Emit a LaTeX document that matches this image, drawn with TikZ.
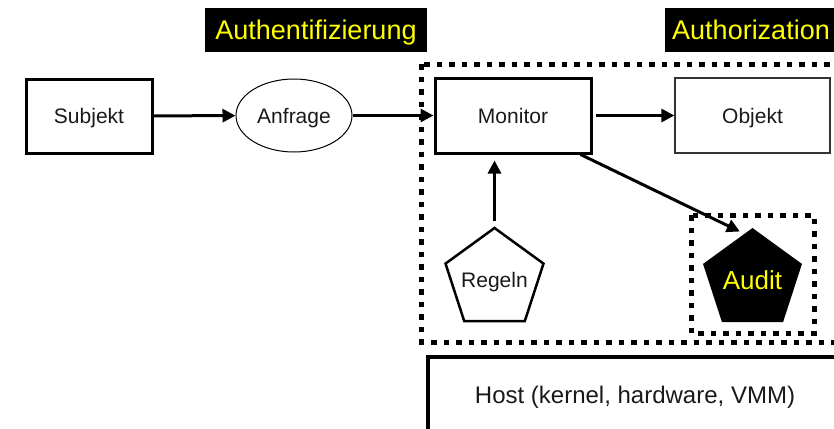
\documentclass[tikz,border=0pt]{standalone}
\usepackage{fontspec}
\setmainfont{Liberation Sans}
\usetikzlibrary{arrows.meta,shapes.geometric}
\definecolor{labelyellow}{RGB}{255,255,0}
\definecolor{ink}{RGB}{25,25,25}

\begin{document}
\begin{tikzpicture}[x=1pt,y=-1pt,
  every node/.style={font=\fontsize{21}{25}\selectfont, text=ink, text height=15pt, text depth=0pt},
  thickbox/.style={draw=black, line width=3pt, rectangle, inner sep=0pt},
  thinbox/.style={draw=black!80, line width=1.3pt, rectangle, inner sep=0pt},
  flow/.style={line width=3pt, -{Triangle[length=13pt,width=13pt]}},
  dotbox/.style={line width=5pt, dash pattern=on 5.5pt off 7pt},
  tag/.style={fill=black, text=labelyellow, font=\fontsize{27}{31}\selectfont,
    inner xsep=7pt, inner ysep=0pt, minimum height=44pt, text height=19.3pt, text depth=0pt},
  penta/.style={regular polygon, regular polygon sides=5, inner sep=0pt}
]
\useasboundingbox (0,0) rectangle (834,428);
\clip (0,0) rectangle (834,428);

% section labels
\node[tag, minimum width=222pt] (authn) at (316,30) {Authentifizierung};
\node[tag, anchor=west, text width=170pt, align=left] (authz) at (665,30) {Authorization};

% reference-monitor frame and audit frame
\draw[dotbox] (421.5,64) rectangle (860,342);
\draw[dotbox] (691,215) rectangle (814,333);

% host layer
\draw[line width=3.5pt] (428,357) rectangle (900,480);
\node[inner sep=0pt, font=\fontsize{24}{28}\selectfont, text height=17.2pt] (host) at (635,394.5) {Host (kernel, hardware, VMM)};

% main flow
\node[thickbox, minimum width=126pt, minimum height=74pt] (subj) at (89,116) {Subjekt};
\node[ellipse, draw=black, line width=1pt, minimum width=116pt, minimum height=73pt, inner sep=0pt] (req) at (294,115.5) {Anfrage};
\node[thickbox, minimum width=156pt, minimum height=75pt] (mon) at (513,115.5) {Monitor};
\node[thinbox, minimum width=155pt, minimum height=75pt] (obj) at (752.5,115.5) {Objekt};
\node[penta, minimum size=103pt, draw=black, line width=2.5pt] (rules) at (494.5,279.5) {\makebox[0pt]{Regeln}};
\node[penta, minimum size=104pt, fill=black, text=labelyellow, font=\fontsize{26}{30}\selectfont, text height=18.6pt] (audit) at (752.5,280) {\makebox[0pt]{Audit}};

\draw[flow] (subj) -- (req);
\draw[flow] (req) -- (mon);
\draw[flow, shorten <=3pt] (mon) -- (obj);
\draw[flow, shorten <=5pt, shorten >=6pt] (rules.north) -- (rules.north |- mon.south);
\draw[flow, shorten >=5pt] (mon.-30) -- (audit.100);
\end{tikzpicture}
\end{document}
